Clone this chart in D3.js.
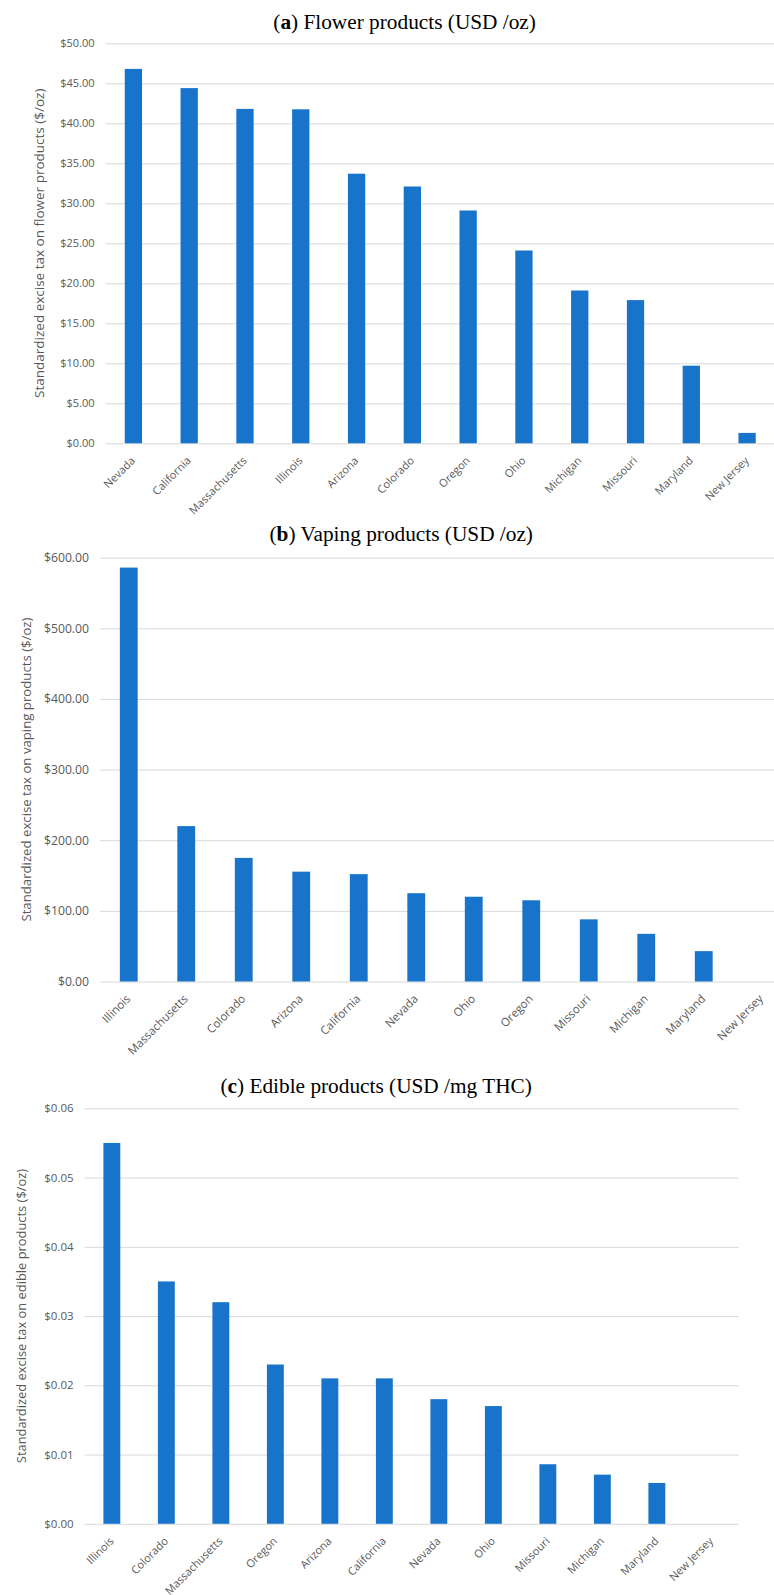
<!DOCTYPE html>
<html>
<head>
<meta charset="utf-8">
<script src="https://cdn.jsdelivr.net/npm/d3@7"></script>
<style>
  html, body { margin: 0; padding: 0; background: #ffffff; }
  svg { display: block; }
</style>
</head>
<body>
<div id="chart"></div>
<script>
// ---------- DATA ----------
const flowerStates = ["Nevada", "California", "Massachusetts", "Illinois", "Arizona", "Colorado", "Oregon", "Ohio", "Michigan", "Missouri", "Maryland", "New Jersey"];
const flowerValues = [46.8, 44.4, 41.8, 41.75, 33.7, 32.1, 29.1, 24.1, 19.1, 17.9, 9.7, 1.3];
const flowerTicks = [0, 5, 10, 15, 20, 25, 30, 35, 40, 45, 50];

const vapingStates = ["Illinois", "Massachusetts", "Colorado", "Arizona", "California", "Nevada", "Ohio", "Oregon", "Missouri", "Michigan", "Maryland", "New Jersey"];
const vapingValues = [586, 220, 175, 155.5, 152, 125, 120, 115, 88, 67.5, 43, 0];
const vapingTicks = [0, 100, 200, 300, 400, 500, 600];

const edibleStates = ["Illinois", "Colorado", "Massachusetts", "Oregon", "Arizona", "California", "Nevada", "Ohio", "Missouri", "Michigan", "Maryland", "New Jersey"];
const edibleValues = [0.055, 0.035, 0.032, 0.023, 0.021, 0.021, 0.018, 0.017, 0.0086, 0.0071, 0.0059, 0];
const edibleTicks = [0, 0.01, 0.02, 0.03, 0.04, 0.05, 0.06];

const titleLetters = ["a", "b", "c"];
const titleTexts = [" Flower products (USD /oz)", " Vaping products (USD /oz)", " Edible products (USD /mg THC)"];
const yTitles = [
  "Standardized excise tax on flower products ($/oz)",
  "Standardized excise tax on vaping products ($/oz)",
  "Standardized excise tax on edible products ($/oz)"
];

// ---------- LAYOUT ----------
const W = 774, H = 1595;
const BAR = "#1874cb";
const GRID = "#d9d9d9";
const TXT = "#595959";
const SANS = "'Open Sans', 'Noto Sans', sans-serif";
const SERIF = "'Liberation Serif', 'DejaVu Serif', serif";

const panels = [
  { states: flowerStates, values: flowerValues, ticks: flowerTicks, fmt: d3.format("$.2f"),
    x0: 105.5, x1: 775, yBase: 443.3, yTop: 43.3, tickFs: 11, xFs: 11, yTitleFs: 13.5,
    titleX: 273.3, titleY: 29.3, yTitleX: 39 },
  { states: vapingStates, values: vapingValues, ticks: vapingTicks, fmt: d3.format("$.2f"),
    x0: 100, x1: 790, yBase: 981.5, yTop: 557.7, tickFs: 12.2, xFs: 11.5, yTitleFs: 13.2,
    titleX: 269.5, titleY: 540.7, yTitleX: 26.5 },
  { states: edibleStates, values: edibleValues, ticks: edibleTicks, fmt: d3.format("$.2f"),
    x0: 84.6, x1: 738.6, yBase: 1523.8, yTop: 1108.3, tickFs: 11.5, xFs: 11, yTitleFs: 12.9,
    titleX: 220.5, titleY: 1093.3, yTitleX: 21 }
];

const svg = d3.select("#chart").append("svg")
  .attr("width", W).attr("height", H)
  .attr("viewBox", `0 0 ${W} ${H}`);

svg.append("rect").attr("width", W).attr("height", H).attr("fill", "#fff");

panels.forEach((p, i) => {
  const g = svg.append("g");
  const maxV = p.ticks[p.ticks.length - 1];
  const x = d3.scaleBand().domain(p.states).range([p.x0, p.x1])
    .paddingInner(0.69).paddingOuter(0.345);
  const y = d3.scaleLinear().domain([0, maxV]).range([p.yBase, p.yTop]);

  // gridlines + y tick labels
  const yAxis = d3.axisLeft(y).tickValues(p.ticks).tickFormat(p.fmt)
    .tickSize(-(p.x1 - p.x0)).tickPadding(11);
  const ga = g.append("g").attr("transform", `translate(${p.x0},0)`).call(yAxis);
  ga.select(".domain").remove();
  ga.selectAll(".tick line").attr("stroke", GRID).attr("stroke-width", 1);
  ga.selectAll(".tick text").attr("fill", TXT)
    .style("font-family", SANS).style("font-size", p.tickFs + "px");

  // bars
  g.append("g").selectAll("rect").data(p.states).join("rect")
    .attr("x", d => x(d))
    .attr("width", x.bandwidth())
    .attr("y", (d, k) => y(p.values[k]))
    .attr("height", (d, k) => p.yBase - y(p.values[k]))
    .attr("fill", BAR);

  // x axis labels
  const xAxis = d3.axisBottom(x).tickSize(0).tickPadding(0);
  const gx = g.append("g").attr("transform", `translate(0,${p.yBase})`).call(xAxis);
  gx.select(".domain").remove();
  gx.selectAll(".tick text")
    .attr("fill", TXT)
    .style("font-family", SANS).style("font-size", p.xFs + "px")
    .attr("text-anchor", "end")
    .attr("x", 0).attr("y", 0).attr("dy", 0)
    .attr("transform", "translate(2.5,18) rotate(-45)");

  // y axis title, centred on the plot area
  g.append("text")
    .attr("transform", `translate(${p.yTitleX},${(p.yBase + p.yTop) / 2}) rotate(-90)`)
    .attr("text-anchor", "middle")
    .attr("dy", "0.35em")
    .attr("fill", TXT)
    .style("font-family", SANS).style("font-size", p.yTitleFs + "px")
    .text(yTitles[i]);

  // title
  const t = g.append("text")
    .attr("x", p.titleX).attr("y", p.titleY)
    .attr("fill", "#000")
    .style("font-family", SERIF).style("font-size", "21.3px");
  t.append("tspan").text("(");
  t.append("tspan").style("font-weight", "bold").text(titleLetters[i]);
  t.append("tspan").text(")" + titleTexts[i]);
});
</script>
</body>
</html>
